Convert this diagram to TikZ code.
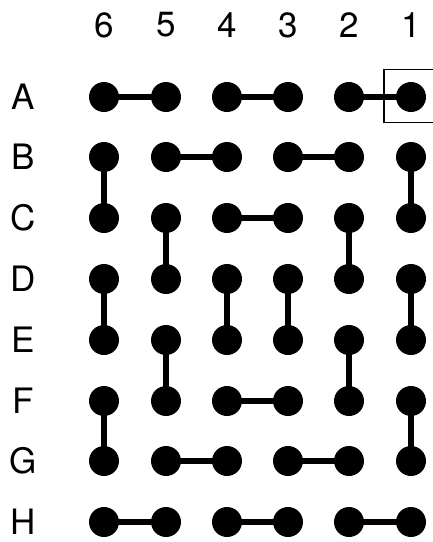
\documentclass[tikz,border=0pt]{standalone}
\usepackage{fontspec}
\setmainfont{TeX Gyre Heros}
\begin{document}
\begin{tikzpicture}[x=1pt,y=-1pt,
  dot/.style={circle,fill=black,inner sep=0pt,minimum size=30pt},
  lbl/.style={font=\fontsize{35}{35}\selectfont,inner sep=0pt},
  link/.style={line width=6pt},
  selbox/.style={draw,line width=1.5pt,minimum width=54pt,minimum height=53pt,inner sep=0pt}]
\useasboundingbox (0,0) rectangle (433,542);
\clip (0,0) rectangle (433,542);
% column labels
\foreach \c/\x in {6/104,5/166,4/227,3/288,2/349,1/411}
  \node[lbl] (col\c) at (\x,25) {\c};
% row labels
\foreach \r/\y in {A/97,B/157,C/218,D/279,E/340,F/401,G/461,H/522}
  \node[lbl] (row\r) at (23,\y) {\r};
% selection box
\node[selbox] (sel) at (411,96) {};
% dots
\foreach \r/\y in {A/97,B/157,C/218,D/279,E/340,F/401,G/461,H/522}
  \foreach \c/\x in {6/104,5/166,4/227,3/288,2/349,1/411}
    \node[dot] (\r\c) at (\x,\y) {};
% links
\foreach \a/\b in {A6/A5,A4/A3,A2/A1,
  B6/C6,B5/B4,B3/B2,B1/C1,
  C4/C3,C5/D5,C2/D2,
  D6/E6,D4/E4,D3/E3,D1/E1,
  E5/F5,E2/F2,
  F4/F3,F6/G6,F1/G1,
  G5/G4,G3/G2,
  H6/H5,H4/H3,H2/H1}
  \draw[link] (\a.center) -- (\b.center);
\end{tikzpicture}
\end{document}
